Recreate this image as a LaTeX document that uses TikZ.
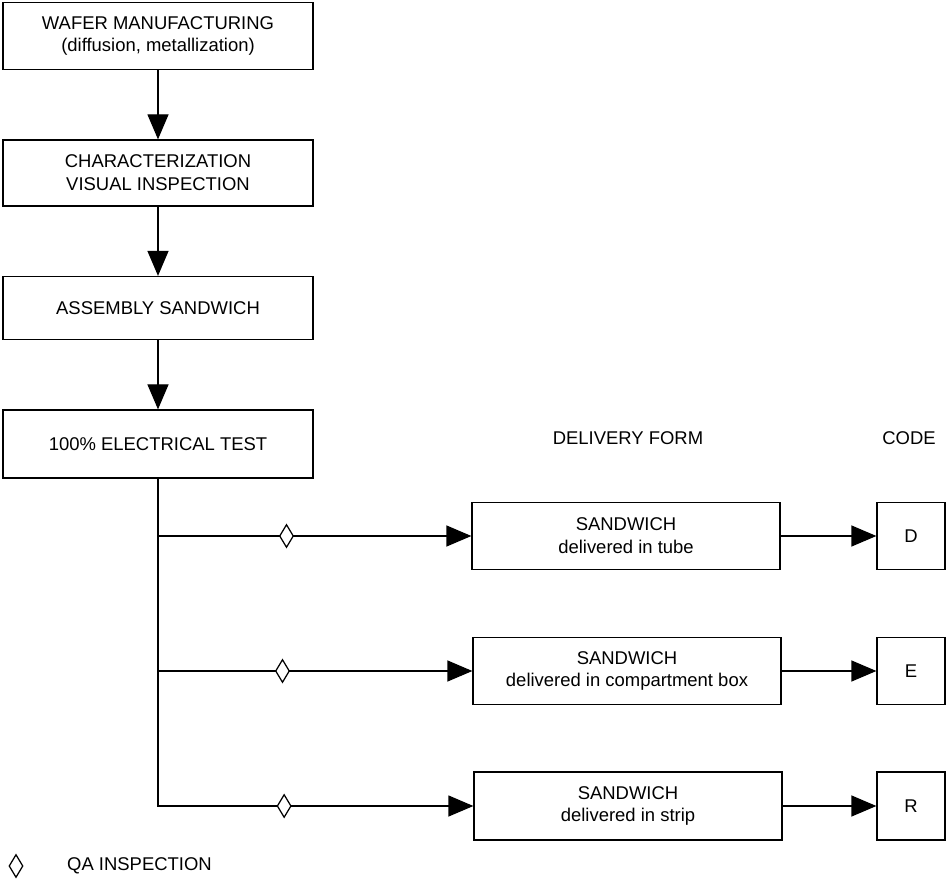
\documentclass[tikz,border=0pt]{standalone}
\usepackage{fontspec}
\setmainfont{Liberation Sans}
\usetikzlibrary{arrows.meta,shapes.geometric}

\tikzset{
  box/.style={draw, line width=0.7pt, align=center, inner sep=0pt},
  flow/.style={line width=0.7pt, -{Triangle[length=5mm, width=4.2mm]}},
  qa/.style={draw, diamond, fill=white, line width=0.7pt, inner sep=0pt,
    minimum width=2.8mm, minimum height=4.6mm}
}

\begin{document}
\begin{tikzpicture}[x=0.2mm, y=-0.2mm, every node/.style={font=\fontsize{10.5}{13}\selectfont}]
    \useasboundingbox (0,0) rectangle (947,882);

    % Prozesskette links
    \node[box, minimum width=62mm, minimum height=13.4mm] (wafer) at (158,36)
        {WAFER MANUFACTURING\\(diffusion, metallization)};
    \node[box, minimum width=62mm, minimum height=13.2mm] (visual) at (158,173)
        {CHARACTERIZATION\\VISUAL INSPECTION};
    \node[box, minimum width=62mm, minimum height=12.6mm] (assembly) at (158,308)
        {ASSEMBLY SANDWICH};
    \node[box, minimum width=62mm, minimum height=13.6mm] (test) at (158,444)
        {100\% ELECTRICAL TEST};

    \draw[flow] (wafer) -- (visual);
    \draw[flow] (visual) -- (assembly);
    \draw[flow] (assembly) -- (test);

    % Spaltenkoepfe
    \node (form) at (628,438) {DELIVERY FORM};
    \node (code) at (909,438) {CODE};

    % Lieferformen
    \node[box, minimum width=61.6mm, minimum height=13.4mm] (tube) at (626,536)
        {SANDWICH\\delivered in tube};
    \node[box, minimum width=61.6mm, minimum height=13.4mm] (compbox) at (627,671)
        {SANDWICH\\delivered in compartment box};
    \node[box, minimum width=61.6mm, minimum height=13.6mm] (strip) at (628,806)
        {SANDWICH\\delivered in strip};

    % Codes
    \node[box, minimum width=13.6mm, minimum height=13.4mm] (codeD) at (911,536) {D};
    \node[box, minimum width=13.6mm, minimum height=13.4mm] (codeE) at (911,671) {E};
    \node[box, minimum width=13.6mm, minimum height=13.6mm] (codeR) at (911,806) {R};

    % Verzweigung mit QA-Pruefpunkten
    \draw[flow] (test.south) |- node[qa, pos=0.705] (qa1) {} (tube.west);
    \draw[flow] (test.south) |- node[qa, pos=0.698] (qa2) {} (compbox.west);
    \draw[flow] (test.south) |- node[qa, pos=0.700] (qa3) {} (strip.west);

    \draw[flow] (tube) -- (codeD);
    \draw[flow] (compbox) -- (codeE);
    \draw[flow] (strip) -- (codeR);

    % Legende
    \node[qa] (legqa) at (16,866) {};
    \node[anchor=west] (legtext) at (61,866) {QA INSPECTION};
\end{tikzpicture}
\end{document}
